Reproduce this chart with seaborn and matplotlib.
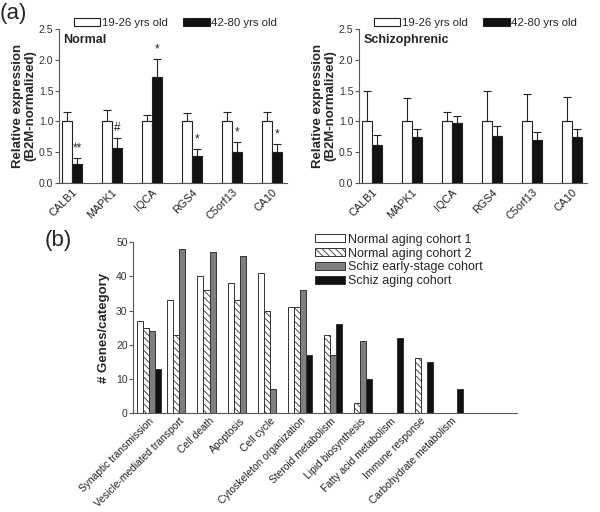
import numpy as np
import pandas as pd
import matplotlib
matplotlib.use('Agg')
import matplotlib.pyplot as plt
import seaborn as sns
from matplotlib.patches import Patch

# ---- data: panel (a)
genes = ['CALB1', 'MAPK1', 'IQCA', 'RGS4', 'C5orf13', 'CA10']
age_groups = ['19-26 yrs old', '42-80 yrs old']

normal_young = [1.0, 1.0, 1.0, 1.0, 1.0, 1.0]
normal_young_err = [0.15, 0.18, 0.10, 0.14, 0.15, 0.16]
normal_old = [0.31, 0.57, 1.72, 0.43, 0.51, 0.51]
normal_old_err = [0.09, 0.16, 0.29, 0.12, 0.15, 0.12]
normal_marks = ['**', '#', '*', '*', '*', '*']

schiz_young = [1.0, 1.0, 1.0, 1.0, 1.0, 1.0]
schiz_young_err = [0.49, 0.38, 0.15, 0.49, 0.44, 0.40]
schiz_old = [0.61, 0.74, 0.97, 0.77, 0.70, 0.75]
schiz_old_err = [0.17, 0.14, 0.11, 0.16, 0.13, 0.13]

# ---- data: panel (b)
categories = ['Synaptic transmission', 'Vesicle-mediated transport', 'Cell death',
              'Apoptosis', 'Cell cycle', 'Cytoskeleton organization',
              'Steroid metabolism', 'Lipid biosynthesis', 'Fatty acid metabolism',
              'Immune response', 'Carbohydrate metabolism']
cohorts = ['Normal aging cohort 1', 'Normal aging cohort 2',
           'Schiz early-stage cohort', 'Schiz aging cohort']
normal_c1 = [27, 33, 40, 38, 41, 31, 0, 0, 0, 0, 0]
normal_c2 = [25, 23, 36, 33, 30, 31, 23, 3, 0, 16, 0]
schiz_early = [24, 48, 47, 46, 7, 36, 17, 21, 0, 0, 0]
schiz_aging = [13, 0, 0, 0, 0, 17, 26, 10, 22, 15, 7]

sns.set_style('ticks')
plt.rcParams['font.family'] = ['Liberation Sans', 'DejaVu Sans']
plt.rcParams['hatch.linewidth'] = 0.6
plt.rcParams['axes.edgecolor'] = '#555555'
plt.rcParams['xtick.color'] = '#555555'
plt.rcParams['ytick.color'] = '#555555'
plt.rcParams['xtick.labelcolor'] = '#222222'
plt.rcParams['ytick.labelcolor'] = '#333333'

fig = plt.figure(figsize=(6, 5.12), dpi=100)
ax1 = fig.add_axes([0.098, 0.6426, 0.38, 0.3008])
ax2 = fig.add_axes([0.598, 0.6426, 0.38, 0.3008])
ax3 = fig.add_axes([0.222, 0.193, 0.64, 0.334])

pal_a = ['white', '#111111']


def expr_panel(ax, young, young_err, old, old_err, title, marks=None):
    df = pd.DataFrame({'gene': genes * 2,
                       'group': [age_groups[0]] * 6 + [age_groups[1]] * 6,
                       'value': young + old})
    sns.barplot(df, x='gene', y='value', hue='group', palette=pal_a,
                width=0.5, gap=0, edgecolor='#222222', linewidth=0.8,
                legend=False, ax=ax)
    errs = [young_err, old_err]
    bar_sets = list(ax.containers)
    for k, cont in enumerate(bar_sets):
        xs = [b.get_x() + b.get_width() / 2 for b in cont]
        hs = [b.get_height() for b in cont]
        ax.errorbar(xs, hs, yerr=[np.zeros(len(xs)), errs[k]], fmt='none',
                    ecolor='#222222', elinewidth=0.8, capsize=3, capthick=0.8)
        if marks is not None and k == 1:
            for x, h, e, m in zip(xs, hs, errs[k], marks):
                ax.text(x, h + e + 0.06, m, ha='center', va='bottom',
                        fontsize=8.5, color='#222222')
    ax.set_ylim(0, 2.5)
    ax.set_yticks([0, 0.5, 1.0, 1.5, 2.0, 2.5])
    ax.set_yticklabels(['0.0', '0.5', '1.0', '1.5', '2.0', '2.5'])
    ax.set_xlim(-0.33, 5.37)
    ax.set_xlabel('')
    ax.set_ylabel('Relative expression\n(B2M-normalized)', fontsize=9.5,
                  fontweight='bold', labelpad=2, linespacing=1.0)
    ax.tick_params(axis='y', labelsize=7.5, length=3, width=0.8, pad=1)
    ax.tick_params(axis='x', labelsize=7.8, length=0, pad=3)
    for lab in ax.get_xticklabels():
        lab.set_rotation(45)
        lab.set_ha('right')
        lab.set_rotation_mode('anchor')
    ax.text(0.02, 0.97, title, transform=ax.transAxes, fontsize=9,
            fontweight='bold', va='top', ha='left')
    sns.despine(ax=ax)
    handles = [Patch(facecolor=c, edgecolor='#222222', linewidth=0.8) for c in pal_a]
    ax.legend(handles, age_groups, loc='lower left', bbox_to_anchor=(0.06, 1.0),
              ncol=2, frameon=False, fontsize=8.2, handlelength=2.3,
              handleheight=0.7, handletextpad=0.15, columnspacing=1.4,
              borderaxespad=0.1, borderpad=0)


expr_panel(ax1, normal_young, normal_young_err, normal_old, normal_old_err,
           'Normal', normal_marks)
expr_panel(ax2, schiz_young, schiz_young_err, schiz_old, schiz_old_err,
           'Schizophrenic')

# ---- panel (b)
dfb = pd.DataFrame({'category': categories * 4,
                    'cohort': np.repeat(cohorts, len(categories)),
                    'count': normal_c1 + normal_c2 + schiz_early + schiz_aging})
pal_b = ['white', 'white', '#7f7f7f', '#111111']
sns.barplot(dfb, x='category', y='count', hue='cohort', palette=pal_b,
            width=0.8, gap=0, edgecolor='#333333', linewidth=0.7,
            legend=False, ax=ax3)
for b in ax3.containers[1]:
    b.set_hatch('\\\\\\\\\\')
ax3.set_ylim(0, 50)
ax3.set_yticks([0, 10, 20, 30, 40, 50])
ax3.set_xlim(-0.53, 12.2)
ax3.set_xlabel('')
ax3.set_ylabel('# Genes/category', fontsize=9.5, fontweight='bold', labelpad=4)
ax3.tick_params(axis='y', labelsize=7.5, length=3, width=0.8, pad=1)
ax3.tick_params(axis='x', labelsize=7.4, length=0, pad=2)
for lab in ax3.get_xticklabels():
    lab.set_rotation(45)
    lab.set_ha('right')
    lab.set_rotation_mode('anchor')
sns.despine(ax=ax3)
handles_b = [Patch(facecolor=c, edgecolor='#333333', linewidth=0.7) for c in pal_b]
handles_b[1].set_hatch('\\\\\\\\\\')
ax3.legend(handles_b, cohorts, loc='upper left', bbox_to_anchor=(0.474, 1.05),
           frameon=False, fontsize=9, handlelength=2.4, handleheight=0.55,
           handletextpad=0.25, labelspacing=0.15, borderpad=0,
           borderaxespad=0)

fig.text(0.0, 0.995, '(a)', fontsize=16, va='top', ha='left')
fig.text(0.075, 0.55, '(b)', fontsize=16, va='top', ha='left')

fig.savefig('out.png', dpi=100)
